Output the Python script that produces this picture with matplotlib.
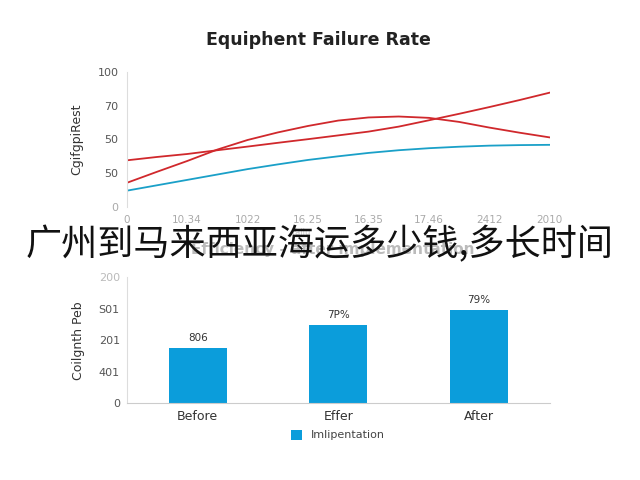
import matplotlib.pyplot as plt

# Courbes du haut (demi-pas)
pos = [0, 0.5, 1, 1.5, 2, 2.5, 3, 3.5, 4, 4.5, 5, 5.5, 6, 6.5, 7]
rouge_1 = [34.5, 37, 39.2, 42, 44.7, 47.5, 50.2, 53, 55.8, 59.5, 64.2, 69, 74, 79.2, 84.7]
rouge_2 = [17.8, 26, 34, 42.5, 49.6, 55.2, 60, 64, 66.3, 67, 66, 63, 58.8, 55, 51.5]
bleu = [12, 16, 20, 24, 28, 31.5, 34.8, 37.5, 40, 42, 43.5, 44.6, 45.4, 45.8, 46]
x_labels = ["0", "10.34", "1022", "16.25", "16.35", "17.46", "2412", "2010"]
y_ticks_haut = [0, 25, 50, 75, 100]
y_labels_haut = ["0", "50", "50", "70", "100"]

# Barres du bas
categories = ["Before", "Effer", "After"]
valeurs = [88, 124, 148]
annotations = ["806", "7P%", "79%"]
y_ticks_bas = [0, 50, 100, 150, 200]
y_labels_bas = ["0", "401", "201", "S01", "200"]

rouge = "#d0282c"
bleu_c = "#1aa0c8"
barre_c = "#0b9ddb"
gris = "#555555"

fig = plt.figure(figsize=(6.4, 4.8), dpi=100)

# Graphique du haut
ax1 = fig.add_axes([0.198, 0.569, 0.661, 0.281])
ax1.plot(pos, rouge_1, color=rouge, lw=1.3)
ax1.plot(pos, rouge_2, color=rouge, lw=1.3)
ax1.plot(pos, bleu, color=bleu_c, lw=1.3)
ax1.set_xlim(0, 7)
ax1.set_ylim(0, 100)
ax1.set_xticks(range(8))
ax1.set_xticklabels(x_labels, color="#aaaaaa", fontsize=7.5)
ax1.set_yticks(y_ticks_haut)
ax1.set_yticklabels(y_labels_haut, color=gris, fontsize=8)
ax1.get_yticklabels()[0].set_color("#aaaaaa")
for s in ["top", "right", "bottom"]:
    ax1.spines[s].set_visible(False)
ax1.spines["left"].set_color("#dddddd")
ax1.tick_params(length=0, pad=6)
ax1.set_ylabel("CgifgpiRest", fontsize=9, color="#333333", labelpad=10)
fig.text(0.497, 0.917, "Equiphent Failure Rate", ha="center", va="center",
         fontsize=12.5, fontweight="bold", color="#222222")

# Graphique du bas
ax2 = fig.add_axes([0.198, 0.16, 0.661, 0.2625])
ax2.bar(range(3), valeurs, width=0.41, color=barre_c, label="Imlipentation")
for i, (v, t) in enumerate(zip(valeurs, annotations)):
    ax2.text(i, v + 8, t, ha="center", va="bottom", fontsize=7.5, color="#333333")
ax2.set_xlim(-0.505, 2.505)
ax2.set_ylim(0, 200)
ax2.set_xticks(range(3))
ax2.set_xticklabels(categories, fontsize=9, color="#333333")
ax2.set_yticks(y_ticks_bas)
ax2.set_yticklabels(y_labels_bas, fontsize=8, color=gris)
ax2.get_yticklabels()[-1].set_color("#bbbbbb")
for s in ["top", "right"]:
    ax2.spines[s].set_visible(False)
ax2.spines["left"].set_color("#dddddd")
ax2.spines["bottom"].set_color("#cccccc")
ax2.tick_params(length=0, pad=5)
ax2.set_ylabel("Coilgnth Peb", fontsize=9, color="#333333", labelpad=10)
ax2.legend(loc="upper center", bbox_to_anchor=(0.5, -0.13), frameon=False,
           fontsize=8, handlelength=1, handleheight=1, labelcolor="#444444")

# Texte pâle derrière le titre chinois
fig.text(0.47, 0.515, "Failu", ha="center", va="center", fontsize=6, color="#cccccc")
fig.text(0.52, 0.48, "Efficiency - after implementation", ha="center", va="center",
         fontsize=11, fontweight="bold", color="#bbbbbb")

# Titre chinois superposé
fig.text(0.5, 0.49, "广州到马来西亚海运多少钱,多长时间", ha="center", va="center",
         fontsize=26, color="#111111", family=["Noto Sans CJK SC", "DejaVu Sans"])

fig.savefig("out.png", dpi=100)
